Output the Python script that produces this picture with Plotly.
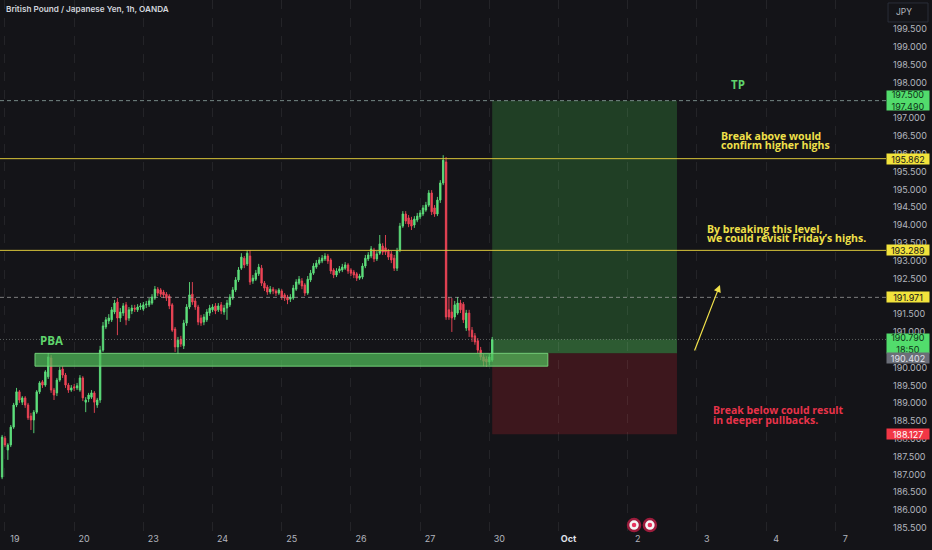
import plotly.graph_objects as go

# GBP/JPY 1h candles, hour index from the start of Sep 19
hours = list(range(-1, 170))

opens = [
    186.93, 188.02, 187.69, 187.83, 188.33, 188.95, 189.32, 189.03, 189.15, 188.95, 188.64, 188.53,
    188.75, 189.32, 189.60, 189.51, 189.74, 190.27, 189.37, 189.29, 189.65, 189.96, 189.79, 189.51,
    189.37, 189.46, 189.43, 189.37, 189.71, 189.03, 189.12, 189.17, 189.29, 188.95, 189.09, 190.49,
    191.14, 191.31, 191.34, 191.56, 191.84, 191.39, 191.53, 191.76, 191.39, 191.59, 191.67, 191.62,
    191.70, 191.64, 191.76, 191.76, 191.81, 191.95, 192.20, 192.18, 192.12, 192.06, 192.01, 191.76,
    191.08, 190.58, 190.80, 190.61, 191.25, 191.70, 192.06, 191.87, 191.70, 191.39, 191.28, 191.34,
    191.53, 191.62, 191.73, 191.62, 191.76, 191.56, 191.67, 191.76, 191.95, 192.18, 192.46, 192.79,
    193.07, 192.91, 193.13, 192.43, 192.48, 192.63, 192.79, 192.37, 192.26, 192.12, 192.20, 192.15,
    192.09, 192.15, 192.04, 191.98, 191.92, 191.95, 192.20, 192.37, 192.43, 192.32, 192.09, 192.46,
    192.65, 192.82, 192.93, 192.99, 193.05, 193.13, 193.02, 192.74, 192.60, 192.71, 192.74, 192.79,
    192.88, 192.74, 192.68, 192.63, 192.51, 192.54, 192.85, 193.05, 193.13, 193.30, 193.05, 193.21,
    193.41, 193.36, 193.27, 193.19, 193.07, 192.79, 193.30, 193.97, 194.31, 194.20, 194.14, 194.00,
    194.14, 194.23, 194.31, 194.42, 194.56, 194.90, 194.48, 194.31, 194.70, 195.18, 195.77, 191.62,
    191.56, 191.42, 191.53, 191.81, 191.78, 191.11, 191.53, 191.05, 190.89, 190.75, 190.49, 190.30,
    190.24, 190.16, 190.21,
]
highs = [
    188.11, 188.08, 187.88, 188.39, 189.01, 189.43, 189.37, 189.20, 189.20, 189.01, 188.73, 188.81,
    189.37, 189.62, 189.65, 189.93, 190.41, 190.35, 189.43, 189.71, 190.02, 190.04, 189.85, 189.57,
    189.51, 189.54, 189.57, 189.79, 189.76, 189.17, 189.29, 189.37, 189.34, 189.15, 190.61, 191.28,
    191.42, 191.50, 191.70, 191.90, 191.95, 191.67, 191.81, 191.84, 191.70, 191.76, 191.76, 191.78,
    191.81, 191.84, 191.87, 191.95, 192.06, 192.29, 192.26, 192.23, 192.18, 192.12, 192.06, 191.81,
    191.14, 190.86, 190.89, 191.34, 191.78, 192.40, 192.40, 191.95, 191.76, 191.48, 191.50, 191.64,
    191.76, 191.78, 191.81, 191.81, 191.84, 191.76, 191.90, 192.06, 192.26, 192.54, 192.82, 193.21,
    193.13, 193.30, 193.30, 192.60, 192.74, 192.91, 192.88, 192.43, 192.32, 192.29, 192.26, 192.20,
    192.23, 192.20, 192.09, 192.04, 192.06, 192.32, 192.48, 192.57, 192.51, 192.37, 192.57, 192.74,
    192.93, 193.02, 193.10, 193.16, 193.21, 193.19, 193.07, 192.79, 192.79, 192.85, 192.91, 192.96,
    192.93, 192.79, 192.74, 192.68, 192.63, 192.93, 193.16, 193.24, 193.41, 193.36, 193.27, 193.72,
    193.49, 193.72, 193.33, 193.27, 193.16, 193.36, 194.06, 194.39, 194.39, 194.28, 194.23, 194.25,
    194.34, 194.42, 194.56, 194.65, 194.98, 194.98, 194.56, 194.79, 195.26, 195.96, 195.91, 191.98,
    191.95, 191.87, 191.98, 191.90, 191.84, 191.62, 191.62, 191.14, 190.97, 190.83, 190.58, 190.38,
    190.32, 190.38, 190.86,
]
lows = [
    186.87, 187.77, 187.41, 187.77, 188.28, 188.89, 189.01, 188.95, 188.87, 188.53, 188.25, 188.16,
    188.70, 189.26, 189.43, 189.46, 189.68, 189.29, 189.09, 189.20, 189.60, 189.71, 189.43, 189.29,
    189.32, 189.34, 189.37, 189.32, 189.06, 188.75, 189.03, 189.12, 188.73, 188.87, 189.01, 190.44,
    191.08, 191.22, 191.28, 191.50, 190.91, 191.28, 191.45, 191.19, 191.31, 191.50, 191.56, 191.56,
    191.62, 191.59, 191.67, 191.70, 191.76, 191.90, 192.01, 191.98, 191.95, 191.87, 191.64, 191.00,
    190.44, 190.38, 190.58, 190.52, 191.17, 191.64, 191.76, 191.62, 191.19, 191.17, 191.19, 191.28,
    191.45, 191.56, 191.50, 191.56, 191.50, 191.48, 191.34, 191.70, 191.90, 192.12, 192.40, 192.74,
    192.79, 192.85, 192.32, 192.35, 192.43, 192.57, 192.29, 192.15, 192.04, 192.06, 192.06, 192.01,
    192.04, 191.90, 191.87, 191.78, 191.84, 191.90, 192.15, 192.32, 192.20, 192.01, 192.04, 192.40,
    192.60, 192.77, 192.88, 192.93, 192.99, 192.91, 192.63, 192.51, 192.54, 192.65, 192.68, 192.74,
    192.63, 192.57, 192.51, 192.43, 192.46, 192.48, 192.79, 192.99, 193.07, 192.96, 192.99, 193.16,
    193.16, 193.16, 193.02, 192.93, 192.71, 192.71, 193.24, 193.92, 194.03, 193.94, 193.86, 193.92,
    194.08, 194.17, 194.25, 194.37, 194.51, 194.28, 194.23, 194.25, 194.62, 195.12, 191.34, 191.34,
    191.00, 191.34, 191.48, 191.53, 191.25, 191.03, 190.86, 190.72, 190.64, 190.41, 190.21, 190.04,
    190.02, 190.07, 190.16,
]
closes = [
    188.05, 187.83, 187.83, 188.33, 188.95, 189.32, 189.09, 189.15, 188.95, 188.59, 188.53, 188.75,
    189.32, 189.57, 189.51, 189.88, 190.30, 189.37, 189.23, 189.65, 189.93, 189.79, 189.51, 189.37,
    189.43, 189.43, 189.49, 189.71, 189.15, 189.09, 189.23, 189.29, 189.03, 189.09, 190.49, 191.17,
    191.34, 191.39, 191.62, 191.81, 191.39, 191.56, 191.73, 191.34, 191.62, 191.67, 191.64, 191.70,
    191.73, 191.76, 191.78, 191.87, 191.98, 192.20, 192.09, 192.06, 192.04, 191.95, 191.73, 191.05,
    190.58, 190.77, 190.66, 191.25, 191.70, 192.04, 191.84, 191.70, 191.28, 191.25, 191.42, 191.56,
    191.67, 191.70, 191.59, 191.73, 191.59, 191.67, 191.81, 191.98, 192.18, 192.46, 192.74, 193.10,
    192.88, 193.21, 192.40, 192.51, 192.65, 192.82, 192.37, 192.23, 192.12, 192.20, 192.15, 192.09,
    192.18, 191.98, 191.95, 191.90, 191.98, 192.23, 192.40, 192.48, 192.29, 192.09, 192.48, 192.65,
    192.85, 192.93, 193.02, 193.07, 193.13, 192.99, 192.71, 192.60, 192.71, 192.77, 192.82, 192.88,
    192.71, 192.65, 192.60, 192.51, 192.57, 192.85, 193.07, 193.16, 193.33, 193.05, 193.19, 193.47,
    193.24, 193.24, 193.10, 193.02, 192.79, 193.27, 193.97, 194.31, 194.11, 194.03, 193.97, 194.17,
    194.25, 194.34, 194.48, 194.56, 194.90, 194.37, 194.31, 194.70, 195.18, 195.82, 191.42, 191.42,
    191.39, 191.76, 191.81, 191.62, 191.34, 191.53, 191.05, 190.86, 190.72, 190.49, 190.30, 190.18,
    190.16, 190.30, 190.79,
]

# time axis: one tick per trading day (24 bars)
day_ticks = [0, 24, 48, 72, 96, 120, 144, 168, 192, 216, 240, 264, 288]
day_labels = ["19", "20", "23", "24", "25", "26", "27", "30",
              "<b><span style='color:#e0e3eb'>Oct</span></b>", "2", "3", "4", "7"]

# price scale labels (the ones fully hidden under price tags are left out)
price_ticks = [185.5, 186.0, 186.5, 187.0, 187.5, 188.0, 188.5, 189.0, 189.5, 190.0,
               191.0, 191.5, 192.5, 193.0, 193.5, 194.0, 194.5, 195.0, 195.5, 196.0,
               196.5, 197.0, 198.0, 198.5, 199.0, 199.5]

# levels drawn on the chart
tp_level = 197.49
tp_tag = 197.50
resistance_levels = [195.862, 193.289]
dashed_level = 191.971
entry = 190.402
last_price = 190.790
stop = 188.127
pba_zone = (190.04, 190.40)
pba_start, pba_end = 10.4, 188.3
box_start, box_end = 169.0, 233.1
arrow_from = (239.0, 190.44)
arrow_to = (248.0, 192.32)
event_x = [218.2, 223.7]
event_y = 185.58

# chart notes: (hour, price, text)
notes_yellow = [
    (247.7, 196.50, "Break above would"),
    (247.7, 196.25, "confirm higher highs"),
    (242.8, 193.90, "By breaking this level,"),
    (242.8, 193.645, "we could revisit Friday’s highs."),
]
notes_red = [
    (244.9, 188.80, "Break below could result"),
    (244.9, 188.54, "in deeper pullbacks."),
]

BG = "#141418"
UP = "#5ee07c"
DOWN = "#ef4557"
YELLOW = "#d9c53a"
TEXT_YELLOW = "#f0e04a"
GREEN_TEXT = "#5fd36c"
AXIS_TEXT = "#b2b5be"

fig = go.Figure()

fig.add_trace(
    go.Candlestick(
        x=hours, open=opens, high=highs, low=lows, close=closes,
        increasing=dict(line=dict(color=UP, width=0.9), fillcolor=UP),
        decreasing=dict(line=dict(color=DOWN, width=0.9), fillcolor=DOWN),
        whiskerwidth=0, showlegend=False, hoverinfo="skip",
    )
)

# economic calendar icons
fig.add_trace(go.Scatter(
    x=event_x, y=[event_y] * len(event_x), mode="markers", showlegend=False, hoverinfo="skip",
    marker=dict(size=12, color="#f4f4f4", line=dict(color="#9c1c3c", width=2.5)),
    cliponaxis=False,
))
fig.add_trace(go.Scatter(
    x=event_x, y=[event_y] * len(event_x), mode="markers", showlegend=False, hoverinfo="skip",
    marker=dict(size=4.5, color="#e8345e"), cliponaxis=False,
))

shapes = []
# long position: profit / loss boxes
shapes.append(dict(type="rect", xref="x", yref="y", x0=box_start, x1=box_end, y0=entry, y1=tp_level,
                   fillcolor="rgba(56,142,60,0.36)", line=dict(width=0), layer="below"))
shapes.append(dict(type="rect", xref="x", yref="y", x0=box_start, x1=box_end, y0=entry, y1=last_price,
                   fillcolor="rgba(90,190,100,0.22)", line=dict(width=0), layer="below"))
shapes.append(dict(type="rect", xref="x", yref="y", x0=box_start, x1=box_end, y0=stop, y1=entry,
                   fillcolor="rgba(150,32,40,0.32)", line=dict(width=0), layer="below"))
# PBA zone
shapes.append(dict(type="rect", xref="x", yref="y", x0=pba_start, x1=pba_end,
                   y0=pba_zone[0], y1=pba_zone[1],
                   fillcolor="rgba(80,190,90,0.72)", line=dict(color="rgba(120,215,125,0.9)", width=1),
                   layer="above"))
# horizontal levels
shapes.append(dict(type="line", xref="paper", yref="y", x0=0, x1=1, y0=tp_level, y1=tp_level,
                   line=dict(color="rgba(150,175,170,0.75)", width=1, dash="4px,3px")))
for lvl in resistance_levels:
    shapes.append(dict(type="line", xref="paper", yref="y", x0=0, x1=1, y0=lvl, y1=lvl,
                       line=dict(color=YELLOW, width=1)))
shapes.append(dict(type="line", xref="paper", yref="y", x0=0, x1=1, y0=dashed_level, y1=dashed_level,
                   line=dict(color="rgba(170,170,170,0.7)", width=1, dash="4px,3px")))
shapes.append(dict(type="line", xref="paper", yref="y", x0=0, x1=1, y0=last_price, y1=last_price,
                   line=dict(color="rgba(140,150,145,0.6)", width=1, dash="1px,2px")))
# currency box
shapes.append(dict(type="rect", xref="paper", yref="paper", x0=1.0023, x1=1.0474, y0=0.9587, y1=0.9944,
                   line=dict(color="#2a2e39", width=1), fillcolor=BG))

annotations = []


def price_tag(y, text, bg, fg, lines=1):
    annotations.append(dict(
        xref="paper", yref="y", x=1, y=y, xanchor="left", yanchor="middle", text=text,
        showarrow=False, bgcolor=bg, font=dict(size=9, color=fg, family="Inter"),
        width=42, height=9 * lines + 1, borderpad=0, align="center",
    ))


price_tag((tp_tag + tp_level) / 2, "197.500<br>197.490", "#52dc6c", "#0e3318", lines=2)
for lvl in resistance_levels:
    price_tag(lvl, f"{lvl:.3f}", "#f2e33c", "#15151a")
price_tag(dashed_level, f"{dashed_level:.3f}", "#f2e33c", "#15151a")
price_tag(last_price - 0.12, f"{last_price:.3f}<br>18:50", "#52dc6c", "#0e3318", lines=2)
price_tag(entry - 0.12, f"{entry:.3f}", "#6b6e78", "#e0e3eb")
price_tag(stop, f"{stop:.3f}", "#f23645", "#ffffff")

annotations.append(dict(xref="paper", yref="paper", x=1, y=1, xshift=8, yshift=-12,
                        xanchor="left", yanchor="middle", text="JPY", showarrow=False,
                        font=dict(size=8.5, color=AXIS_TEXT, family="Inter")))
annotations.append(dict(xref="paper", yref="paper", x=0, y=1, xshift=4, yshift=-9,
                        xanchor="left", yanchor="middle", showarrow=False,
                        text="British Pound / Japanese Yen, 1h, OANDA",
                        font=dict(size=8.2, color="#d1d4dc", family="Inter", weight=600)))

text_font = dict(family="Open Sans", size=10.5, weight="bold")
label_font = dict(family="Open Sans", size=11.5, weight="bold", color=GREEN_TEXT)
annotations.append(dict(x=16, y=190.75, text="PBA", showarrow=False, xanchor="center", font=label_font))
annotations.append(dict(x=254.2, y=197.93, text="TP", showarrow=False, xanchor="center", font=label_font))
for hx, py, txt in notes_yellow:
    annotations.append(dict(x=hx, y=py, text=txt, showarrow=False, xanchor="left",
                            font=dict(text_font, color=TEXT_YELLOW)))
for hx, py, txt in notes_red:
    annotations.append(dict(x=hx, y=py, text=txt, showarrow=False, xanchor="left",
                            font=dict(text_font, color="#e8334a")))
annotations.append(dict(x=arrow_to[0], y=arrow_to[1], ax=arrow_from[0], ay=arrow_from[1],
                        axref="x", ayref="y", text="", showarrow=True, arrowhead=2,
                        arrowsize=1.2, arrowwidth=1.2, arrowcolor=TEXT_YELLOW, standoff=0))

fig.update_layout(
    width=932, height=550,
    margin=dict(l=0, r=46, t=0, b=18),
    paper_bgcolor=BG, plot_bgcolor=BG,
    shapes=shapes, annotations=annotations,
    showlegend=False,
    xaxis=dict(
        range=[-1.73, 305.6], rangeslider=dict(visible=False),
        tickvals=day_ticks, ticktext=day_labels, ticklabelshift=10,
        showgrid=True, gridcolor="rgba(255,255,255,0.07)", griddash="dash", gridwidth=1,
        zeroline=False, showline=False, ticks="",
        tickfont=dict(size=9, color=AXIS_TEXT, family="Inter"),
    ),
    yaxis=dict(
        side="right", range=[185.387, 200.314],
        tickvals=price_ticks, ticktext=[f"{p:.3f}" for p in price_ticks],
        showgrid=False, zeroline=False, showline=False, ticks="", ticklabelstandoff=6,
        tickfont=dict(size=9, color=AXIS_TEXT, family="Inter"),
    ),
)

fig.write_html(
    "out.html",
    config={"displayModeBar": False},
    post_script="document.body.style.margin='0';document.body.style.overflow='hidden';",
)
